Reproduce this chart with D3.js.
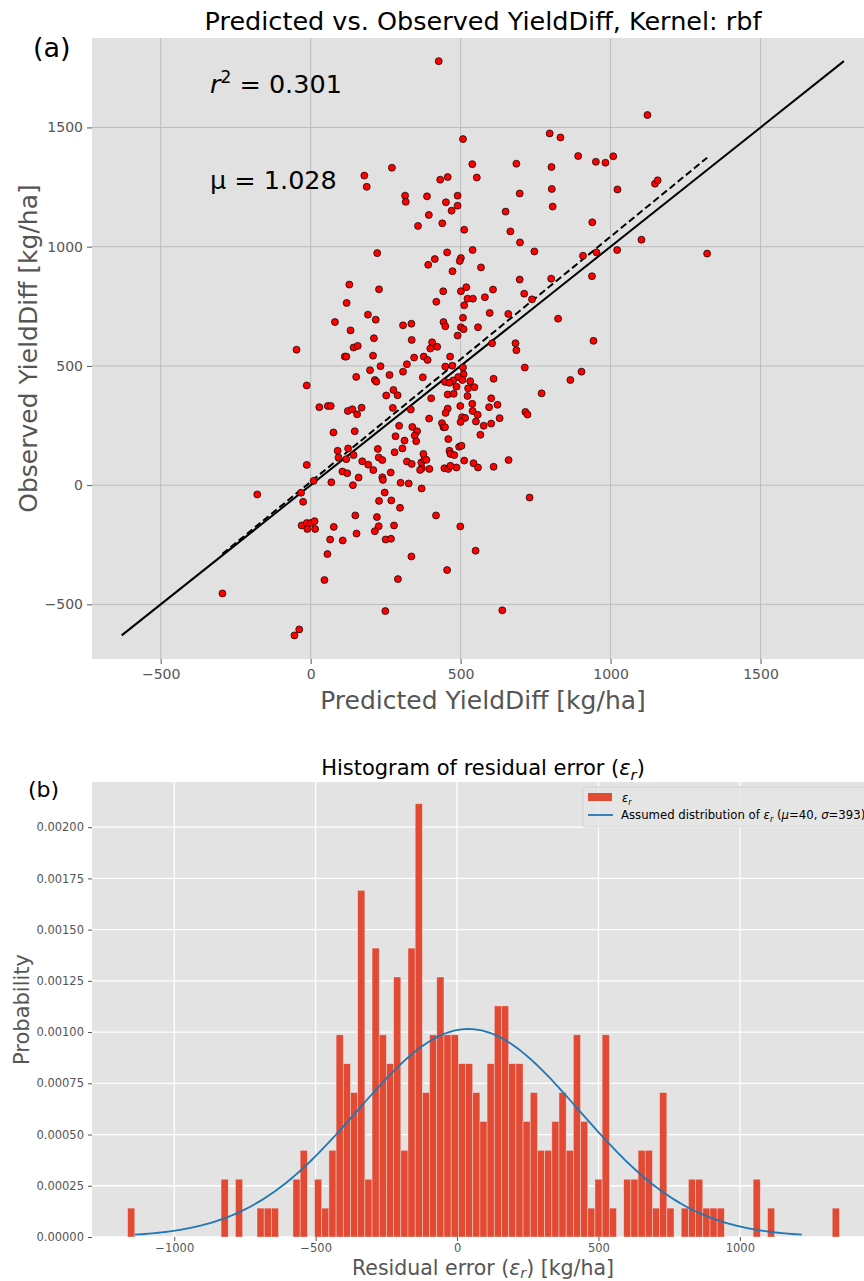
<!DOCTYPE html>
<html>
<head>
<meta charset="utf-8">
<script src="https://cdn.jsdelivr.net/npm/d3@7"></script>
<style>
    body { margin: 0; background: #fff; }
    svg { display: block; font-family: "DejaVu Sans", sans-serif; }
</style>
</head>
<body>
<svg id="chart" width="864" height="1281"></svg>
<script>

// ---- panel (a): predicted vs observed, [predicted, observed] in kg/ha
const scatterPoints = [
    [427,1778],[271,1331],[179,1298],[187,1251],[432,1281],[457,1292],[315,1214],[317,1188],[388,1211],[490,1214],
    [451,1186],[490,1172],[470,1151],[394,1133],[439,1098],[358,1087],[222,973],[455,976],[414,948],[392,924],
    [473,897],[129,841],[228,821],[442,813],[419,769],[120,764],[191,715],[217,694],[81,684],[133,649],
    [308,670],[336,677],[443,684],[449,666],
    [508,1451],[539,1346],[554,1290],[512,1071],[540,986],[501,952],[497,940],[568,913],[501,813],[519,830],
    [523,782],[541,782],[512,754],[508,702],[501,662],[510,654],[558,662],[597,722],[581,788],[608,820],
    [686,1348],[697,1223],[650,1147],[666,1064],[698,1018],[746,980],[697,862],[712,803],[738,779],[659,718],
    [797,1475],[833,1458],[803,1334],[804,1242],[807,1168],[892,1380],[951,1356],[983,1352],[1009,1379],[1023,1240],
    [939,1102],[1103,1029],[1022,986],[953,976],[908,962],[938,876],[802,866],[825,698],[1123,1552],[1148,1264],
    [1157,1278],[1322,971],
    [490,627],[605,595],[683,595],[686,566],[943,605],[465,539],[449,497],[472,501],[508,493],[714,493],
    [903,476],[866,441],[510,465],[492,453],[475,439],[448,433],[463,429],[506,441],[532,436],[610,446],
    [486,413],[525,406],[546,411],[457,380],[477,383],[523,374],[770,385],[602,364],[499,332],[539,341],
    [595,327],[623,337],[457,321],[450,303],[540,311],[557,295],[716,307],[723,296],[630,281],[505,285],
    [515,282],[500,265],[551,267],[577,249],[602,258],[438,260],[443,243],[448,243],[566,211],[459,193],
    [495,161],[503,165],[463,144],[466,131],[479,126],[512,103],[543,92],[558,74],[610,77],[660,105],
    [446,71],[459,68],[486,74],[466,81],[730,-52],[499,-173],[550,-275],[455,-356],[639,-525],
    [211,616],[337,609],[405,599],[422,580],[399,573],[-47,568],[143,577],[157,584],[208,543],[114,539],
    [119,539],[198,482],[214,441],[219,434],[233,499],[263,462],[308,476],[321,507],[345,535],[377,539],
    [390,525],[374,452],[402,364],[395,279],[152,454],[252,376],[276,399],[290,377],[274,324],[334,317],
    [295,249],[339,244],[355,226],[347,208],[352,184],[313,187],[283,205],[306,154],[280,138],
    [371,71],[365,64],[396,68],[369,95],[379,107],[386,106],[376,131],[224,152],[227,116],[239,105],
    [172,100],[192,86],[209,63],[239,33],[241,22],[267,53],[321,99],[337,89],[300,10],[327,7],
    [370,-14],[160,32],[141,0],[106,57],[122,50],[69,12],
    [125,154],[143,126],[119,109],[93,116],[90,144],[76,221],[147,226],[29,327],[57,332],[67,332],
    [124,311],[139,318],[155,297],[170,325],[-13,418],[-13,85],[-178,-39],[10,18],[-32,-32],[-25,-70],
    [-30,-169],[-13,-159],[0,-159],[13,-151],[-11,-184],[15,-184],[77,-175],[65,-228],[107,-232],[56,-289],
    [46,-398],[149,-127],[153,-203],[221,-134],[227,-172],[214,-193],[278,-169],[250,-228],[268,-225],[298,-95],
    [269,-64],[228,-66],[247,-31],[336,-299],[291,-394],[418,-127],[249,-528],[-54,-630],[-38,-605],[-294,-454]
];
const rSquared = 0.301;
const fitSlope = 1.028;
const fitIntercept = 14;
const scatterLimits = [-729, 1875];
const scatterTicks = [-500, 0, 500, 1000, 1500];

// ---- panel (b): residual histogram (counts per bin, 99 equal bins)
const residualMin = -1165, residualMax = 1352;
const residualCounts = [
    1,0,0,0,0,0,0,0,0,0, 0,0,0,2,0,2,0,0,1,1,
    1,0,0,2,3,0,2,1,3,7, 6,5,12,2,10,7,6,9,3,10,
    15,5,7,9,7,7,6,6,5,4, 6,8,8,6,6,4,5,3,3,4,
    5,3,7,4,1,2,7,1,0,2, 2,3,3,1,5,1,0,1,2,2,
    1,1,1,0,0,0,0,2,0,1, 0,0,0,0,0,0,0,0,1
];
const residualMu = 40, residualSigma = 393;
const histXTicks = [-1000, -500, 0, 500, 1000];
const histYTicks = [0, 0.00025, 0.0005, 0.00075, 0.001, 0.00125, 0.0015, 0.00175, 0.002];

const svg = d3.select("#chart");
const tickGrey = "#555555";

// ================= panel (a) =================
const pa = {left: 92, top: 38, width: 781, height: 621};

const xA = d3.scaleLinear().domain(scatterLimits).range([pa.left, pa.left + pa.width]);
const yA = d3.scaleLinear().domain(scatterLimits).range([pa.top + pa.height, pa.top]);

svg.append("defs").append("clipPath").attr("id", "clipA")
    .append("rect").attr("x", pa.left).attr("y", pa.top).attr("width", pa.width).attr("height", pa.height);

svg.append("rect")
    .attr("x", pa.left).attr("y", pa.top)
    .attr("width", pa.width).attr("height", pa.height)
    .attr("fill", "#e1e1e1");

const gridA = svg.append("g").attr("stroke", "#b9b9b9").attr("stroke-width", 0.9);
gridA.selectAll(".vx").data(scatterTicks).join("line")
    .attr("x1", d => xA(d)).attr("x2", d => xA(d))
    .attr("y1", pa.top).attr("y2", pa.top + pa.height);
gridA.selectAll(".hy").data(scatterTicks).join("line")
    .attr("y1", d => yA(d)).attr("y2", d => yA(d))
    .attr("x1", pa.left).attr("x2", pa.left + pa.width);

const plotA = svg.append("g").attr("clip-path", "url(#clipA)");

// identity line over the full data range
const allVals = scatterPoints.flat();
const lo = d3.min(allVals), hi = d3.max(allVals);
plotA.append("line")
    .attr("x1", xA(lo)).attr("y1", yA(lo))
    .attr("x2", xA(hi)).attr("y2", yA(hi))
    .attr("stroke", "#000").attr("stroke-width", 2);

// fitted line over predicted range
const pLo = d3.min(scatterPoints, d => d[0]), pHi = d3.max(scatterPoints, d => d[0]);
plotA.append("line")
    .attr("x1", xA(pLo)).attr("y1", yA(fitSlope * pLo + fitIntercept))
    .attr("x2", xA(pHi)).attr("y2", yA(fitSlope * pHi + fitIntercept))
    .attr("stroke", "#000").attr("stroke-width", 2)
    .attr("stroke-dasharray", "7,3.5");

plotA.selectAll(".dot").data(scatterPoints).join("circle")
    .attr("class", "dot")
    .attr("cx", d => xA(d[0])).attr("cy", d => yA(d[1]))
    .attr("r", 3.5)
    .attr("fill", "#ff0000")
    .attr("stroke", "#000").attr("stroke-width", 0.7);

const axAx = svg.append("g")
    .attr("transform", "translate(0," + (pa.top + pa.height) + ")")
    .call(d3.axisBottom(xA).tickValues(scatterTicks).tickFormat(d3.format("d")).tickSize(5).tickPadding(5));
const axAy = svg.append("g")
    .attr("transform", "translate(" + pa.left + ",0)")
    .call(d3.axisLeft(yA).tickValues(scatterTicks).tickFormat(d3.format("d")).tickSize(5).tickPadding(4));
[axAx, axAy].forEach(function(g){
    g.select(".domain").remove();
    g.selectAll(".tick line").attr("stroke", tickGrey);
    g.selectAll(".tick text").attr("fill", tickGrey)
        .style("font-size", "14px").style("font-family", "DejaVu Sans");
});

svg.append("text")
    .attr("x", 483).attr("y", 30)
    .attr("text-anchor", "middle")
    .style("font-size", "25.5px")
    .text("Predicted vs. Observed YieldDiff, Kernel: rbf");

svg.append("text")
    .attr("x", 483).attr("y", 709)
    .attr("text-anchor", "middle")
    .attr("fill", tickGrey)
    .style("font-size", "25px")
    .text("Predicted YieldDiff [kg/ha]");

svg.append("text")
    .attr("transform", "translate(37," + (pa.top + pa.height / 2) + ") rotate(-90)")
    .attr("text-anchor", "middle")
    .attr("fill", tickGrey)
    .style("font-size", "25px")
    .text("Observed YieldDiff [kg/ha]");

svg.append("text").attr("x", 33).attr("y", 57).style("font-size", "27px").text("(a)");

const r2Label = svg.append("text").attr("x", 210).attr("y", 93).style("font-size", "25.5px");
r2Label.append("tspan").style("font-style", "italic").text("r");
r2Label.append("tspan").attr("dy", -10).style("font-size", "17px").text("2");
r2Label.append("tspan").attr("dy", 10).text(" = " + rSquared.toFixed(3));

svg.append("text").attr("x", 210).attr("y", 189).style("font-size", "25.5px")
    .text("\u03bc = " + fitSlope.toFixed(3));

// ================= panel (b) =================
const pb = {left: 92, top: 782, width: 783, height: 455};

const binWidth = (residualMax - residualMin) / residualCounts.length;
const nResiduals = d3.sum(residualCounts);
const bins = residualCounts.map((c, i) => ({
    x0: residualMin + i * binWidth,
    x1: residualMin + (i + 1) * binWidth,
    density: c / (nResiduals * binWidth)
}));

const pad = 0.05 * (residualMax - residualMin);
const xB = d3.scaleLinear().domain([residualMin - pad, residualMax + pad]).range([pb.left, pb.left + pb.width]);
const yB = d3.scaleLinear().domain([0, d3.max(bins, d => d.density) * 1.05]).range([pb.top + pb.height, pb.top]);

svg.append("rect")
    .attr("x", pb.left).attr("y", pb.top)
    .attr("width", pb.width).attr("height", pb.height)
    .attr("fill", "#e3e3e3");

const gridB = svg.append("g").attr("stroke", "#ffffff").attr("stroke-width", 1.3);
gridB.selectAll(".vx").data(histXTicks).join("line")
    .attr("x1", d => xB(d)).attr("x2", d => xB(d))
    .attr("y1", pb.top).attr("y2", pb.top + pb.height);
gridB.selectAll(".hy").data(histYTicks).join("line")
    .attr("y1", d => yB(d)).attr("y2", d => yB(d))
    .attr("x1", pb.left).attr("x2", pb.left + pb.width);

svg.append("g").selectAll("rect").data(bins.filter(b => b.density > 0)).join("rect")
    .attr("x", d => xB(d.x0))
    .attr("width", d => xB(d.x1) - xB(d.x0))
    .attr("y", d => yB(d.density))
    .attr("height", d => yB(0) - yB(d.density))
    .attr("fill", "#E24A33")
    .attr("stroke", "#eeeeee").attr("stroke-width", 0.7).attr("stroke-opacity", 0.6);

// assumed normal distribution, mu +/- 3 sigma
const normal = x => Math.exp(-0.5 * Math.pow((x - residualMu) / residualSigma, 2)) / (residualSigma * Math.sqrt(2 * Math.PI));
const curveX = d3.range(0, 201).map(i => residualMu - 3 * residualSigma + i * 6 * residualSigma / 200);
svg.append("path")
    .datum(curveX)
    .attr("fill", "none")
    .attr("stroke", "#1f77b4")
    .attr("stroke-width", 1.8)
    .attr("d", d3.line().x(d => xB(d)).y(d => yB(normal(d))));

const axBx = svg.append("g")
    .attr("transform", "translate(0," + (pb.top + pb.height) + ")")
    .call(d3.axisBottom(xB).tickValues(histXTicks).tickFormat(d3.format("d")).tickSize(4).tickPadding(3));
const axBy = svg.append("g")
    .attr("transform", "translate(" + pb.left + ",0)")
    .call(d3.axisLeft(yB).tickValues(histYTicks).tickFormat(d3.format(".5f")).tickSize(4).tickPadding(4));
[axBx, axBy].forEach(function(g){
    g.select(".domain").remove();
    g.selectAll(".tick line").attr("stroke", tickGrey);
    g.selectAll(".tick text").attr("fill", tickGrey)
        .style("font-size", "11.5px").style("font-family", "DejaVu Sans");
});

// italic epsilon with subscript r, then the text that follows on the normal baseline
function epsR(sel, size, after, drop) {
    const shift = size * (drop || 0.22);
    sel.append("tspan").style("font-style", "italic").text("\u03b5");
    sel.append("tspan").attr("dy", shift).style("font-style", "italic")
        .style("font-size", (size * 0.7) + "px").text("r");
    return sel.append("tspan").attr("dy", -shift).text(after);
}

const histTitle = svg.append("text").attr("x", 483).attr("y", 775)
    .attr("text-anchor", "middle").style("font-size", "21px");
histTitle.append("tspan").text("Histogram of residual error (");
epsR(histTitle, 21, ")");

const histXLabel = svg.append("text").attr("x", 483).attr("y", 1275)
    .attr("text-anchor", "middle").attr("fill", tickGrey).style("font-size", "20.5px");
histXLabel.append("tspan").text("Residual error (");
epsR(histXLabel, 20.5, ") [kg/ha]", 0.15);

svg.append("text")
    .attr("transform", "translate(29," + (pb.top + pb.height / 2) + ") rotate(-90)")
    .attr("text-anchor", "middle")
    .attr("fill", tickGrey)
    .style("font-size", "21px")
    .text("Probability");

svg.append("text").attr("x", 28).attr("y", 797).style("font-size", "22px").text("(b)");

// legend
const legend = svg.append("g");
legend.append("rect")
    .attr("x", 583).attr("y", 787).attr("width", 300).attr("height", 40)
    .attr("rx", 2)
    .attr("fill", "#e5e5e5").attr("fill-opacity", 0.8)
    .attr("stroke", "#cfcfcf").attr("stroke-width", 0.8);
legend.append("rect")
    .attr("x", 588).attr("y", 793).attr("width", 24).attr("height", 8)
    .attr("fill", "#E24A33");
legend.append("line")
    .attr("x1", 588).attr("x2", 613).attr("y1", 815).attr("y2", 815)
    .attr("stroke", "#1f77b4").attr("stroke-width", 1.8);
const leg1 = legend.append("text").attr("x", 622).attr("y", 802).style("font-size", "11.5px");
epsR(leg1, 11.5, "");
const leg2 = legend.append("text").attr("x", 621).attr("y", 819).style("font-size", "11.7px");
leg2.append("tspan").text("Assumed distribution of ");
epsR(leg2, 11.7, " (");
leg2.append("tspan").style("font-style", "italic").text("\u03bc");
leg2.append("tspan").text("=" + residualMu + ", ");
leg2.append("tspan").style("font-style", "italic").text("\u03c3");
leg2.append("tspan").text("=" + residualSigma + ")");

</script>
</body>
</html>
